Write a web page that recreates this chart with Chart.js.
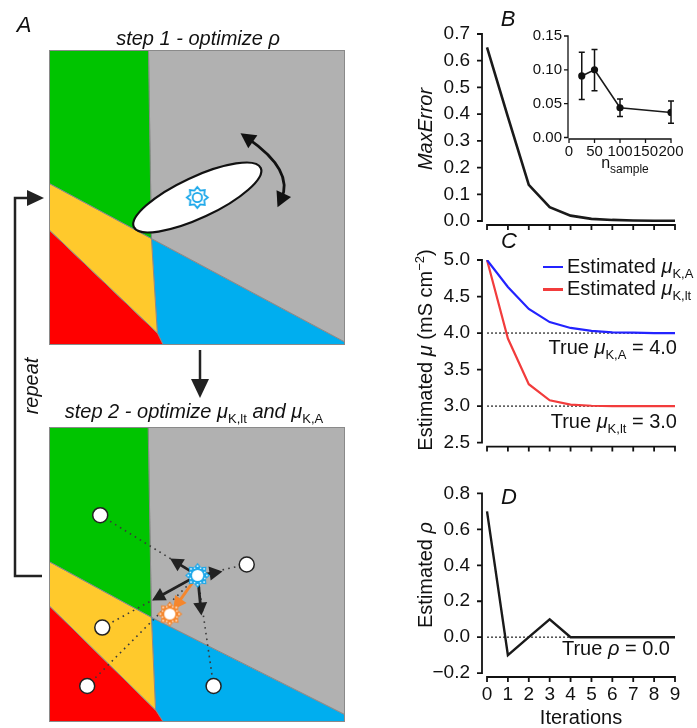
<!DOCTYPE html>
<html><head><meta charset="utf-8">
<script src="https://cdn.jsdelivr.net/npm/chart.js@4"></script>
<style>
body{margin:0;background:#fff;}
#wrap{position:relative;width:697px;height:728px;overflow:hidden;font-family:"Liberation Sans",Arial,sans-serif;color:#111;}
canvas{position:absolute;}
.t{position:absolute;white-space:nowrap;line-height:1;font-size:20px;}
.it{font-style:italic;}
.c{transform:translate(-50%,-50%);}
.r{transform:translate(-100%,-50%);}
.l{transform:translate(0,-50%);}
.rot{transform:translate(-50%,-50%) rotate(-90deg);}
.sb{font-size:13px;position:relative;top:5px;font-style:normal;}
.sp{font-size:13px;position:relative;top:-8px;}
.g{font-style:italic;}
</style></head>
<body><div id="wrap">
<canvas id="sq1" width="296" height="295" style="left:49px;top:50px"></canvas>
<canvas id="sq2" width="296" height="295" style="left:49px;top:427px"></canvas>
<canvas id="cB" width="267" height="250" style="left:430px;top:0px"></canvas>
<canvas id="cIn" width="170" height="150" style="left:520px;top:20px"></canvas>
<canvas id="cC" width="267" height="240" style="left:430px;top:230px"></canvas>
<canvas id="cD" width="267" height="258" style="left:430px;top:470px"></canvas>
<svg width="697" height="728" style="position:absolute;left:0;top:0">
<path d="M42,576 H15 V198 H28" fill="none" stroke="#222" stroke-width="2.5"/>
<polygon points="27,190 44,198 27,206" fill="#222"/>
<line x1="200" y1="350" x2="200" y2="382" stroke="#222" stroke-width="2.5"/>
<polygon points="191,379 209,379 200,398" fill="#222"/>
</svg>
<div class="t it c" style="left:24px;top:25px;font-size:22px">A</div>
<div class="t it c" style="left:198px;top:38px">step 1 - optimize ρ</div>
<div class="t it c" style="left:194px;top:411px">step 2 - optimize <span class="g">μ</span><span class="sb">K,lt</span> and <span class="g">μ</span><span class="sb">K,A</span></div>
<div class="t it rot" style="left:31px;top:386px">repeat</div>
<div class="t it c" style="left:508px;top:19px;font-size:22px">B</div>
<div class="t it c" style="left:509px;top:241px;font-size:22px">C</div>
<div class="t it c" style="left:509px;top:497px;font-size:22px">D</div>
<div class="t it rot" style="left:425px;top:129px">MaxError</div>
<div class="t rot" style="left:425px;top:350px">Estimated <span class="g">μ</span> (mS cm<span class="sp">−2</span>)</div>
<div class="t rot" style="left:425px;top:575px">Estimated <span class="g">ρ</span></div>
<div class="t c" style="left:625px;top:163px;font-size:16px">n<span class="sb" style="font-size:12px;top:5px">sample</span></div>
<div style="position:absolute;left:543px;top:265.5px;width:20px;height:2.5px;background:#2323ff"></div>
<div style="position:absolute;left:543px;top:288px;width:20px;height:2.5px;background:#f23c3c"></div>
<div class="t l" style="left:567px;top:266px">Estimated <span class="g">μ</span><span class="sb">K,A</span></div>
<div class="t l" style="left:567px;top:288px">Estimated <span class="g">μ</span><span class="sb">K,lt</span></div>
<div class="t r" style="left:677px;top:347px">True <span class="g">μ</span><span class="sb">K,A</span> = 4.0</div>
<div class="t r" style="left:677px;top:421px">True <span class="g">μ</span><span class="sb">K,lt</span> = 3.0</div>
<div class="t r" style="left:670px;top:648px">True <span class="g">ρ</span> = 0.0</div>
<div class="t c" style="left:581px;top:717px">Iterations</div>
</div>
<script>
// ---------------- DATA ----------------
const iterations = [0,1,2,3,4,5,6,7,8,9];
const maxError   = [0.65,0.39,0.135,0.052,0.020,0.008,0.004,0.002,0.001,0.001];
const nSample     = [25,50,100,200];
const nSampleMean = [0.091,0.100,0.044,0.037];
const nSampleLow  = [0.056,0.069,0.031,0.021];
const nSampleHigh = [0.126,0.130,0.057,0.054];
const muKA  = [5.0,4.63,4.33,4.15,4.07,4.03,4.01,4.005,4.0,4.0];
const muKlt = [5.0,3.925,3.30,3.08,3.02,3.005,3.0,3.0,3.0,3.0];
const trueMuKA = 4.0, trueMuKlt = 3.0;
const rho = [0.7,-0.1,0.0,0.1,0.0,0.0,0.0,0.0,0.0,0.0];
const trueRho = 0.0;
const ticksB = [0,0.1,0.2,0.3,0.4,0.5,0.6,0.7];
const ticksC = [2.5,3.0,3.5,4.0,4.5,5.0];
const ticksD = [-0.2,0,0.2,0.4,0.6,0.8];
const ticksInY = [0,0.05,0.10,0.15];
const ticksInX = [0,50,100,150,200];

// ------------- schematic (panel A) in square units 0..100 -------------
const regionsTop = {
  green:  [[0,0],[33.6,0],[34.6,63.9],[0,45.2],[0,0]],
  gray:   [[33.6,0],[100,0],[100,99],[34.6,63.9],[33.6,0]],
  yellow: [[0,45.2],[34.6,63.9],[36.6,95.9],[0,60.9],[0,45.2]],
  red:    [[0,60.9],[36.6,95.9],[38.6,100],[0,100],[0,60.9]],
  blue:   [[34.6,63.9],[100,99],[100,100],[38.6,100],[36.6,95.9],[34.6,63.9]]
};
const regionsBot = {
  green:  [[0,0],[33.5,0],[34.6,64.5],[0,45.6],[0,0]],
  gray:   [[33.5,0],[100,0],[100,97.5],[34.6,64.5],[33.5,0]],
  yellow: [[0,45.6],[34.6,64.5],[36.0,95.9],[0,60.5],[0,45.6]],
  red:    [[0,60.5],[36.0,95.9],[38.6,100],[0,100],[0,60.5]],
  blue:   [[34.6,64.5],[100,97.5],[100,100],[38.6,100],[36.0,95.9],[34.6,64.5]]
};
const regionColors = {green:'#00c400',gray:'#b1b1b1',yellow:'#ffc92c',red:'#ff0000',blue:'#00aeef'};
const topStar = [50.1,50.0];
const curvedArrow = {p0:[64.7,28.2], c:[82.9,40.9], p2:[77.2,53.3]};
const samples = [[17.3,29.9],[66.8,46.6],[18.0,68.0],[12.9,87.8],[55.6,87.8]];
const blueStar = [50.2,50.3];
const orangeStar = [40.8,63.4];
const arrowTips = [[40.9,44.6],[58.6,49.0],[34.8,58.8],[51.5,63.9]];
const orangeTip = [42.0,61.9];

Chart.defaults.font.family = '"Liberation Sans", Arial, sans-serif';
Chart.defaults.color = '#111';

const pts = (xs, ys) => xs.map((x,i)=>({x, y: ys[i]}));

function spines(cfg){
  return {
    id:'spines',
    afterDraw(chart){
      const {ctx, chartArea} = chart, xs = chart.scales.x, ys = chart.scales.y;
      ctx.save(); ctx.strokeStyle = '#111'; ctx.lineWidth = cfg.lw; ctx.lineCap='butt';
      ctx.beginPath();
      const x0 = chartArea.left;
      const yt = ys.getPixelForValue(cfg.yTicks[cfg.yTicks.length-1]);
      const yb = ys.getPixelForValue(cfg.yTicks[0]);
      ctx.moveTo(x0, yt - cfg.lw/2); ctx.lineTo(x0, yb + cfg.lw/2);
      cfg.yTicks.forEach(v=>{const p = ys.getPixelForValue(v); ctx.moveTo(x0, p); ctx.lineTo(x0 - cfg.tickLen, p);});
      const y0 = chartArea.bottom;
      const xl = xs.getPixelForValue(cfg.xTicks[0]), xr = xs.getPixelForValue(cfg.xTicks[cfg.xTicks.length-1]);
      ctx.moveTo(xl - cfg.lw/2, y0); ctx.lineTo(xr + cfg.lw/2, y0);
      cfg.xTicks.forEach(v=>{const p = xs.getPixelForValue(v); ctx.moveTo(p, y0); ctx.lineTo(p, y0 + cfg.tickLen);});
      ctx.stroke(); ctx.restore();
    }
  };
}

function lineChart(id, o){
  return new Chart(document.getElementById(id), {
    type:'line',
    data:{datasets:o.datasets},
    options:{
      responsive:false, animation:false, events:[],
      layout:{autoPadding:false, padding:{top:o.padTop, right:o.padRight, left:0, bottom:0}},
      plugins:{legend:{display:false}, tooltip:{enabled:false}},
      elements:{line:{tension:0}, point:{radius:0}},
      scales:{
        x:{type:'linear', min:o.xMin, max:o.xMax,
           grid:{display:false, drawTicks:false}, border:{display:false},
           afterBuildTicks:s=>{s.ticks = o.xTicks.map(v=>({value:v}));},
           afterFit:s=>{s.height = o.xHeight;},
           ticks:{display:o.xLabels, padding:o.xPad||0, autoSkip:false, maxRotation:0, minRotation:0,
                  font:{size:o.xFontSize||o.fontSize}, color:'#111', callback:v=>String(v)}},
        y:{type:'linear', min:o.yMin, max:o.yMax,
           grid:{display:false, drawTicks:false}, border:{display:false},
           afterBuildTicks:s=>{s.ticks = o.yTicks.map(v=>({value:v}));},
           afterFit:s=>{s.width = o.yWidth;},
           ticks:{padding:o.yPad, font:{size:o.fontSize}, color:'#111', callback:o.yFmt}}
      }
    },
    plugins:[spines({xTicks:o.xTicks, yTicks:o.yTicks, lw:o.lw, tickLen:o.tickLen})].concat(o.plugins||[])
  });
}

const fmt1 = v => (v < 0 ? '\u2212' : '') + Math.abs(v).toFixed(1);
const fmt2 = v => v.toFixed(2);
const dotted = {borderColor:'#555', borderWidth:1.6, borderDash:[2,2], pointRadius:0, order:2};

// ---- B ----
lineChart('cB', {
  datasets:[{data:pts(iterations, maxError), borderColor:'#1a1a1a', borderWidth:2.6, pointRadius:0}],
  xMin:-0.24, xMax:9, xTicks:iterations, xLabels:false, xHeight:25,
  yMin:-0.015, yMax:0.7, yTicks:ticksB, yFmt:fmt1, yWidth:52, yPad:12,
  padTop:34, padRight:22, fontSize:19, lw:1.8, tickLen:5
});

// ---- inset ----
const errBars = {
  id:'errbars',
  afterDatasetsDraw(chart){
    const {ctx} = chart, xs = chart.scales.x, ys = chart.scales.y;
    ctx.save(); ctx.strokeStyle='#111'; ctx.lineWidth=1.5; ctx.beginPath();
    nSample.forEach((n,i)=>{
      const x = xs.getPixelForValue(n), y1 = ys.getPixelForValue(nSampleLow[i]), y2 = ys.getPixelForValue(nSampleHigh[i]);
      ctx.moveTo(x,y1); ctx.lineTo(x,y2);
      ctx.moveTo(x-3,y1); ctx.lineTo(x+3,y1);
      ctx.moveTo(x-3,y2); ctx.lineTo(x+3,y2);
    });
    ctx.stroke(); ctx.restore();
  }
};
lineChart('cIn', {
  datasets:[{data:pts(nSample, nSampleMean), borderColor:'#1a1a1a', borderWidth:1.6,
             pointRadius:3.6, pointBackgroundColor:'#111', pointBorderColor:'#111', pointBorderWidth:0}],
  xMin:-2, xMax:200, xTicks:ticksInX, xLabels:true, xHeight:31, xPad:4,
  yMin:-0.0022, yMax:0.15, yTicks:ticksInY, yFmt:fmt2, yWidth:48, yPad:6,
  padTop:16, padRight:19, fontSize:15, lw:1.3, tickLen:4, plugins:[errBars]
});

// ---- C ----
lineChart('cC', {
  datasets:[
    {data:pts(iterations, muKA), borderColor:'#2323ff', borderWidth:2.2, pointRadius:0, order:0},
    {data:pts(iterations, muKlt), borderColor:'#f23c3c', borderWidth:2.2, pointRadius:0, order:0},
    Object.assign({data:[{x:iterations[0],y:trueMuKA},{x:iterations[iterations.length-1],y:trueMuKA}]}, dotted),
    Object.assign({data:[{x:iterations[0],y:trueMuKlt},{x:iterations[iterations.length-1],y:trueMuKlt}]}, dotted)
  ],
  xMin:-0.24, xMax:9, xTicks:iterations, xLabels:false, xHeight:20,
  yMin:2.446, yMax:5.0, yTicks:ticksC, yFmt:fmt1, yWidth:52, yPad:12,
  padTop:30, padRight:22, fontSize:19, lw:1.8, tickLen:5
});

// ---- D ----
lineChart('cD', {
  datasets:[
    {data:pts(iterations, rho), borderColor:'#1a1a1a', borderWidth:2.4, pointRadius:0, order:0},
    Object.assign({data:[{x:iterations[0],y:trueRho},{x:iterations[iterations.length-1],y:trueRho}]}, dotted)
  ],
  xMin:-0.24, xMax:9, xTicks:iterations, xLabels:true, xHeight:51, xPad:6, xFontSize:19,
  yMin:-0.2214, yMax:0.8, yTicks:ticksD, yFmt:fmt1, yWidth:52, yPad:12,
  padTop:16, padRight:22, fontSize:19, lw:1.8, tickLen:5
});

// ---------------- panel A ----------------
function makeStar(color, outer, inner, outline){
  const s = Math.ceil(outer*2+6), c = document.createElement('canvas');
  c.width = s; c.height = s;
  const g = c.getContext('2d'), cx = s/2, cy = s/2;
  g.beginPath();
  for(let i=0;i<16;i++){
    const r = i%2 ? inner : outer, a = -Math.PI/2 + i*Math.PI/8;
    const x = cx + r*Math.cos(a), y = cy + r*Math.sin(a);
    i ? g.lineTo(x,y) : g.moveTo(x,y);
  }
  g.closePath();
  if(outline){
    g.fillStyle='#fff'; g.fill(); g.strokeStyle=color; g.lineWidth=1.8; g.stroke();
    g.beginPath(); g.arc(cx,cy,inner*0.62,0,2*Math.PI); g.stroke();
  } else {
    g.fillStyle=color; g.fill();
    g.beginPath(); g.arc(cx,cy,inner*0.62,0,2*Math.PI); g.fillStyle='#fff'; g.fill();
    g.fillStyle='rgba(255,255,255,0.9)';
    for(let i=0;i<8;i++){ const a=-Math.PI/2+i*Math.PI/4; g.fillRect(cx+(outer-3.2)*Math.cos(a)-0.8, cy+(outer-3.2)*Math.sin(a)-0.8, 1.6, 1.6);}
    for(let i=0;i<8;i++){ const a=-Math.PI/2+(i+0.5)*Math.PI/4; g.fillRect(cx+(inner-1.2)*Math.cos(a)-0.7, cy+(inner-1.2)*Math.sin(a)-0.7, 1.4, 1.4);}
  }
  return c;
}

function arrow(ctx, x1,y1,x2,y2,color,lw,hl,hw){
  const a = Math.atan2(y2-y1, x2-x1);
  const bx = x2 - hl*Math.cos(a), by = y2 - hl*Math.sin(a);
  ctx.save(); ctx.strokeStyle=color; ctx.fillStyle=color; ctx.lineWidth=lw;
  ctx.beginPath(); ctx.moveTo(x1,y1); ctx.lineTo(bx+Math.cos(a),by+Math.sin(a)); ctx.stroke();
  ctx.beginPath(); ctx.moveTo(x2,y2);
  ctx.lineTo(bx + hw*Math.sin(a), by - hw*Math.cos(a));
  ctx.lineTo(bx - hw*Math.sin(a), by + hw*Math.cos(a));
  ctx.closePath(); ctx.fill(); ctx.restore();
}
function head(ctx, x, y, a, color, hl, hw){
  const bx = x - hl*Math.cos(a), by = y - hl*Math.sin(a);
  ctx.beginPath(); ctx.moveTo(x,y);
  ctx.lineTo(bx + hw*Math.sin(a), by - hw*Math.cos(a));
  ctx.lineTo(bx - hw*Math.sin(a), by + hw*Math.cos(a));
  ctx.closePath(); ctx.fillStyle=color; ctx.fill();
}

const diagram = {
  id:'diagram',
  afterDatasetDraw(chart, args){
    const ds = chart.data.datasets[args.index];
    if(!ds.tag) return;
    const X = v=>chart.scales.x.getPixelForValue(v), Y = v=>chart.scales.y.getPixelForValue(v);
    const ctx = chart.ctx;
    if(ds.tag === 'ellipse'){
      ctx.save();
      ctx.beginPath(); ctx.ellipse(X(topStar[0]), Y(topStar[1]), 70, 20.5, -25*Math.PI/180, 0, 2*Math.PI);
      ctx.fillStyle='#fff'; ctx.fill(); ctx.lineWidth=2.2; ctx.strokeStyle='#111'; ctx.stroke();
      const p0=[X(curvedArrow.p0[0]),Y(curvedArrow.p0[1])], c=[X(curvedArrow.c[0]),Y(curvedArrow.c[1])], p2=[X(curvedArrow.p2[0]),Y(curvedArrow.p2[1])];
      const a0 = Math.atan2(p0[1]-c[1], p0[0]-c[0]), a2 = Math.atan2(p2[1]-c[1], p2[0]-c[0]);
      const s0=[p0[0]-9*Math.cos(a0), p0[1]-9*Math.sin(a0)], s2=[p2[0]-9*Math.cos(a2), p2[1]-9*Math.sin(a2)];
      ctx.beginPath(); ctx.moveTo(s0[0],s0[1]); ctx.quadraticCurveTo(c[0],c[1],s2[0],s2[1]);
      ctx.lineWidth=2.8; ctx.stroke();
      head(ctx, p0[0], p0[1], a0, '#111', 15, 8);
      head(ctx, p2[0], p2[1], a2, '#111', 15, 8);
      ctx.restore();
    }
    if(ds.tag === 'arrows'){
      const sx = X(blueStar[0]), sy = Y(blueStar[1]);
      arrowTips.forEach(t=>arrow(ctx, sx, sy, X(t[0]), Y(t[1]), '#222', 2.8, 13, 7));
      arrow(ctx, sx, sy, X(orangeTip[0]), Y(orangeTip[1]), '#f5862c', 2.8, 13, 7);
    }
  },
  afterDraw(chart){
    const {ctx, chartArea:a} = chart;
    ctx.save(); ctx.strokeStyle='#8a8a8a'; ctx.lineWidth=1;
    ctx.strokeRect(a.left+0.5, a.top+0.5, a.right-a.left-1, a.bottom-a.top-1); ctx.restore();
  }
};

function regionSets(regions, firstTag){
  return Object.keys(regions).map((k,i)=>({
    data: regions[k].map(p=>({x:p[0], y:p[1]})),
    backgroundColor: regionColors[k], borderColor:'#8a8a8a', borderWidth:1,
    fill:'shape', pointRadius:0, order:10, tag: i===0 ? firstTag : undefined
  }));
}

function squareChart(id, datasets){
  return new Chart(document.getElementById(id), {
    type:'line', data:{datasets},
    options:{
      responsive:false, animation:false, events:[],
      layout:{autoPadding:false, padding:0},
      plugins:{legend:{display:false}, tooltip:{enabled:false}},
      elements:{line:{tension:0}},
      scales:{x:{type:'linear', min:0, max:100, display:false},
              y:{type:'linear', min:0, max:100, reverse:true, display:false}}
    },
    plugins:[diagram]
  });
}

const starBlueOutline = makeStar('#1ca8ea', 10.5, 7.5, true);
const starBlue = makeStar('#1ca8ea', 12.5, 9, false);
const starOrange = makeStar('#f5862c', 12.5, 9, false);

squareChart('sq1', regionSets(regionsTop, 'ellipse').concat([
  {data:[{x:topStar[0], y:topStar[1]}], showLine:false, pointStyle:starBlueOutline, pointRadius:10, order:0}
]));

const dottedLines = samples.map(s=>({
  data:[{x:s[0],y:s[1]},{x:blueStar[0],y:blueStar[1]}],
  borderColor:'#3a3a3a', borderWidth:1.6, borderDash:[1.6,4.2], borderCapStyle:'butt', pointRadius:0, order:5
}));
squareChart('sq2', regionSets(regionsBot, undefined).concat(dottedLines).concat([
  {data:samples.map(s=>({x:s[0],y:s[1]})), showLine:false, pointRadius:7.5, pointBackgroundColor:'#fff',
   pointBorderColor:'#222', pointBorderWidth:1.5, order:2, tag:'arrows'},
  {data:[{x:blueStar[0],y:blueStar[1]},{x:orangeStar[0],y:orangeStar[1]}], showLine:false,
   pointStyle:[starBlue, starOrange], pointRadius:10, order:0}
]));
</script>
</body></html>
